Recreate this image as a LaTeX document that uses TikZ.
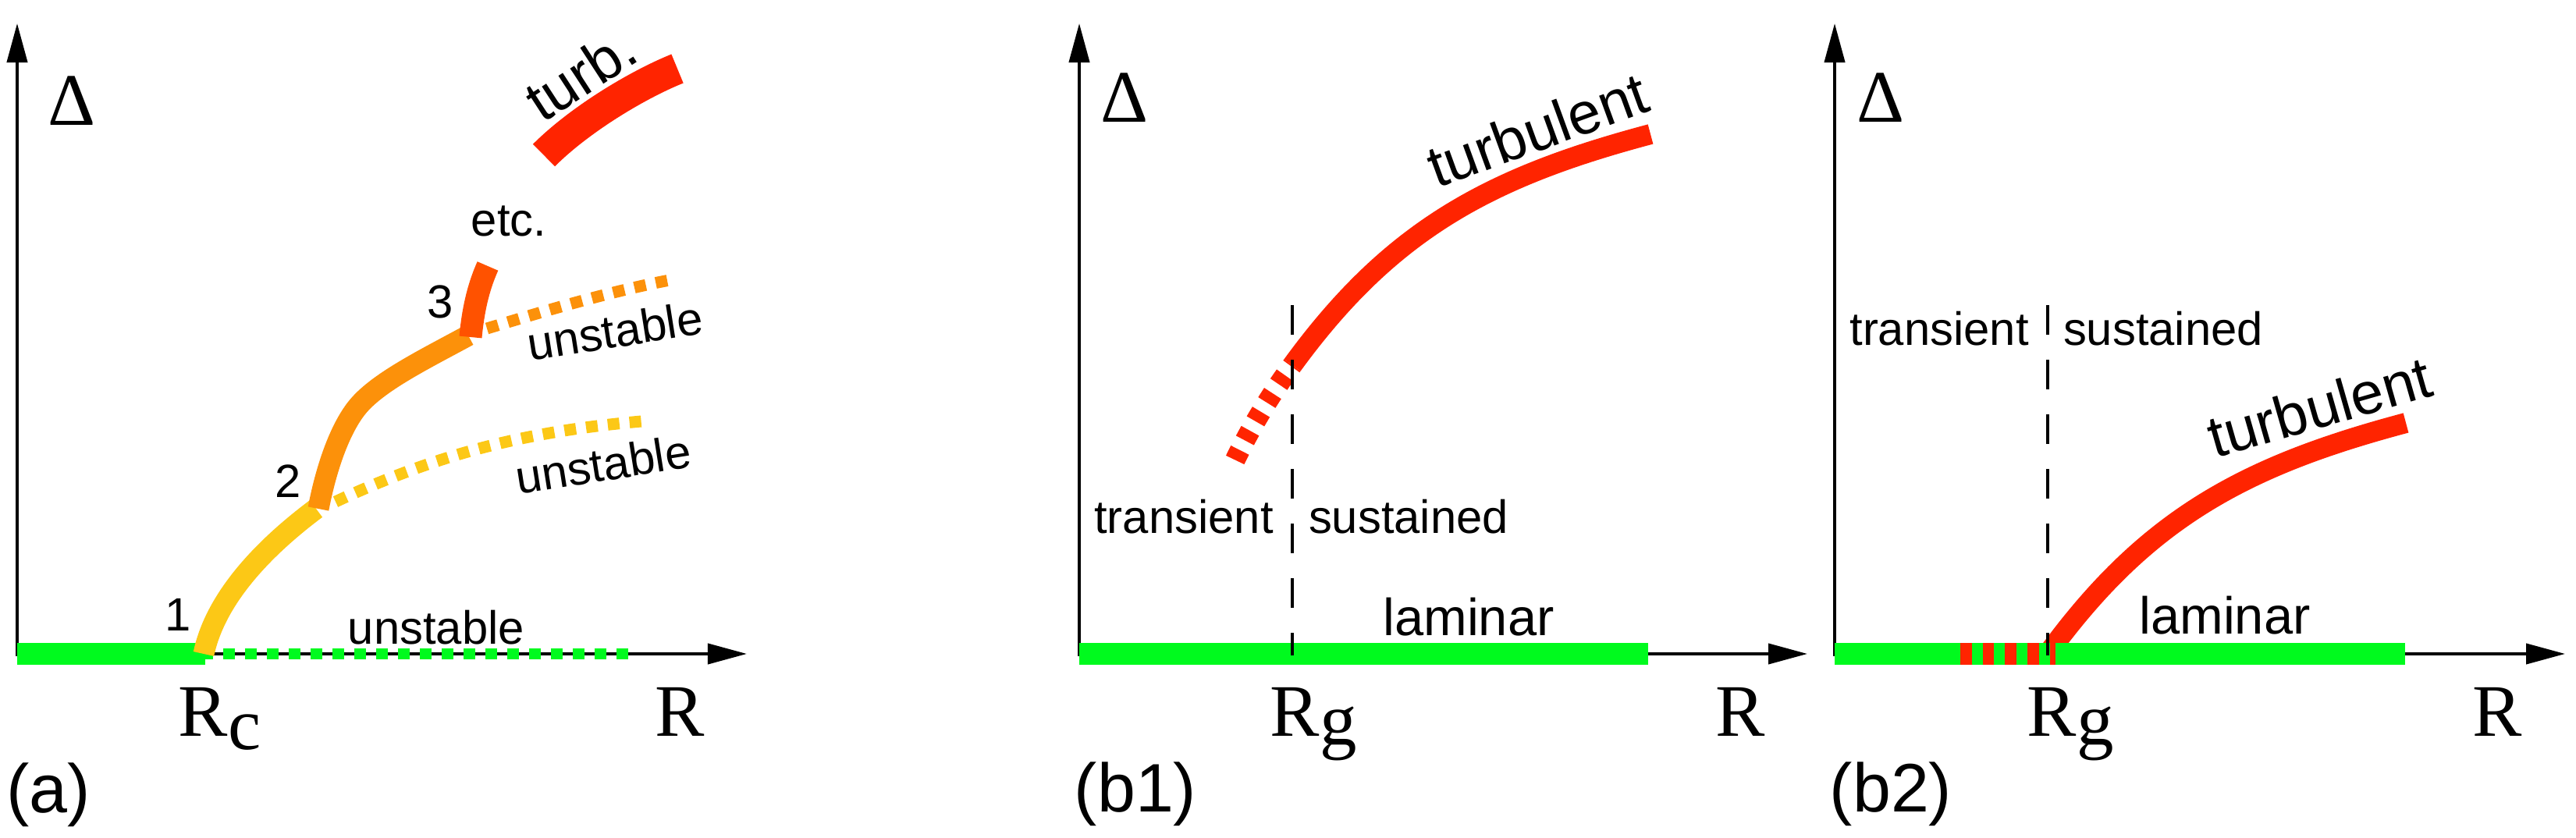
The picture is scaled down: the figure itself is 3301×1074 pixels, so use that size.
\documentclass[tikz,border=0pt]{standalone}
\usepackage{fontspec}
\setmainfont{Liberation Sans}
\newfontfamily\mathlikefont{Liberation Serif}
\usepackage{xcolor}
\usetikzlibrary{arrows.meta}

\definecolor{lamgreen}{RGB}{0,250,30}
\definecolor{yellowbranch}{RGB}{252,200,22}
\definecolor{orangebranch}{RGB}{252,145,10}
\definecolor{redbranch}{RGB}{255,82,0}
\definecolor{turbred}{RGB}{255,36,0}

\begin{document}
\begin{tikzpicture}[x=0.01cm, y=-0.01cm,
  axis/.style={line width=0.04cm, -{Triangle[length=0.5cm,width=0.26cm]}},
  laminar/.style={lamgreen, line width=0.28cm},
  branch/.style={line width=0.27cm},
  dotbranch/.style={line width=0.15cm, dash pattern=on 0.15cm off 0.13cm},
  divide/.style={line width=0.045cm, dash pattern=on 0.38cm off 0.32cm},
  txt/.style={inner sep=0pt, font=\fontsize{17}{20}\selectfont},
  lamtxt/.style={inner sep=0pt, font=\fontsize{19}{22}\selectfont},
  bigtxt/.style={inner sep=0pt, font=\fontsize{21.5}{24}\selectfont},
  sym/.style={inner sep=0pt, font=\mathlikefont\fontsize{27}{30}\selectfont},
  panel/.style={inner sep=0pt, font=\fontsize{25}{28}\selectfont}]

\useasboundingbox (0,0) rectangle (3301,1074);

% (a) bifurcation cascade
\draw[axis] (22,841) -- (22,30);
\draw[axis] (22,838) -- (957,838);
\draw[laminar] (22,838) -- (263,838);
\draw[lamgreen, dotbranch, line width=0.14cm] (258,838) -- (806,838);

\draw[yellowbranch, branch] (261,838) .. controls (277.6,759.7) and (349,694) .. (405,652);
\draw[yellowbranch, dotbranch] (430,643) .. controls (568,578.6) and (682.5,552.2) .. (822,540);
\draw[orangebranch, branch] (408,652) .. controls (418,600) and (435,551) .. (457,523)
  .. controls (483,490) and (545,460) .. (600,430);
\draw[orangebranch, dotbranch] (624,421) .. controls (700,398) and (780,374) .. (858,359);
\draw[redbranch, line width=0.29cm] (603,432) .. controls (606,400) and (612,370) .. (625,341);
\draw[turbred, line width=0.4cm] (697,199) .. controls (743,153) and (817,108.6) .. (868,88);

\node[sym] (deltaA) at (92,129) {Δ};
\node[txt] (oneA) at (228,788) {1};
\node[txt] (twoA) at (369,617) {2};
\node[txt] (threeA) at (564,387) {3};
\node[txt] (etcA) at (652,283) {etc.};
\node[bigtxt, rotate=33] (turbA) at (744,95) {turb.};
\node[txt] (unstA) at (559,804) {unstable};
\node[txt, rotate=9] (unstB) at (773,595) {unstable};
\node[txt, rotate=9] (unstC) at (788,424) {unstable};
\node[sym, anchor=base west] (rcA) at (228,944) {R\raisebox{-0.17em}{c}};
\node[sym, anchor=base west] (rA) at (839,943) {R};
\node[panel] (labA) at (62,1019) {(a)};

% (b1) transient below Rg
\draw[axis] (1383,841) -- (1383,30);
\draw[axis] (1383,838) -- (2316,838);
\draw[laminar] (1383,838) -- (2112,838);
\draw[turbred, line width=0.26cm] (1656,468) .. controls (1782,295) and (1908,227) .. (2115,172);
\draw[turbred, line width=0.26cm, dash pattern=on 0.14cm off 0.14cm, dash phase=0.12cm]
  (1656,468) .. controls (1625,510) and (1600,553) .. (1581,593);
\draw[divide] (1656,391) -- (1656,840);

\node[sym] (deltaB) at (1441,125) {Δ};
\node[bigtxt, rotate=20] (turbB) at (1970,166) {turbulent};
\node[txt] (transB) at (1517,662) {transient};
\node[txt] (sustB) at (1805,662) {sustained};
\node[lamtxt] (lamB) at (1882,791) {laminar};
\node[sym, anchor=base west] (rgB) at (1627,943) {R\raisebox{-0.12em}{g}};
\node[sym, anchor=base west] (rB) at (2198,943) {R};
\node[panel] (labB) at (1455,1018) {(b1)};

% (b2) intermittent strip below Rg
\draw[axis] (2351,841) -- (2351,30);
\draw[axis] (2351,838) -- (3287,838);
\draw[turbred, line width=0.26cm] (2624,838) .. controls (2750,665) and (2876,597) .. (3083,542);
\draw[laminar] (2351,838) -- (3082,838);
\draw[turbred, line width=0.28cm, dash pattern=on 0.145cm off 0.142cm] (2512,838) -- (2634,838);
\draw[divide] (2624,391) -- (2624,840);

\node[sym] (deltaC) at (2410,125) {Δ};
\node[bigtxt, rotate=16] (turbC) at (2972,521) {turbulent};
\node[txt] (transC) at (2485,421) {transient};
\node[txt] (sustC) at (2772,421) {sustained};
\node[lamtxt] (lamC) at (2851,789) {laminar};
\node[sym, anchor=base west] (rgC) at (2597,943) {R\raisebox{-0.12em}{g}};
\node[sym, anchor=base west] (rC) at (3168,943) {R};
\node[panel] (labC) at (2423,1018) {(b2)};

\end{tikzpicture}
\end{document}
